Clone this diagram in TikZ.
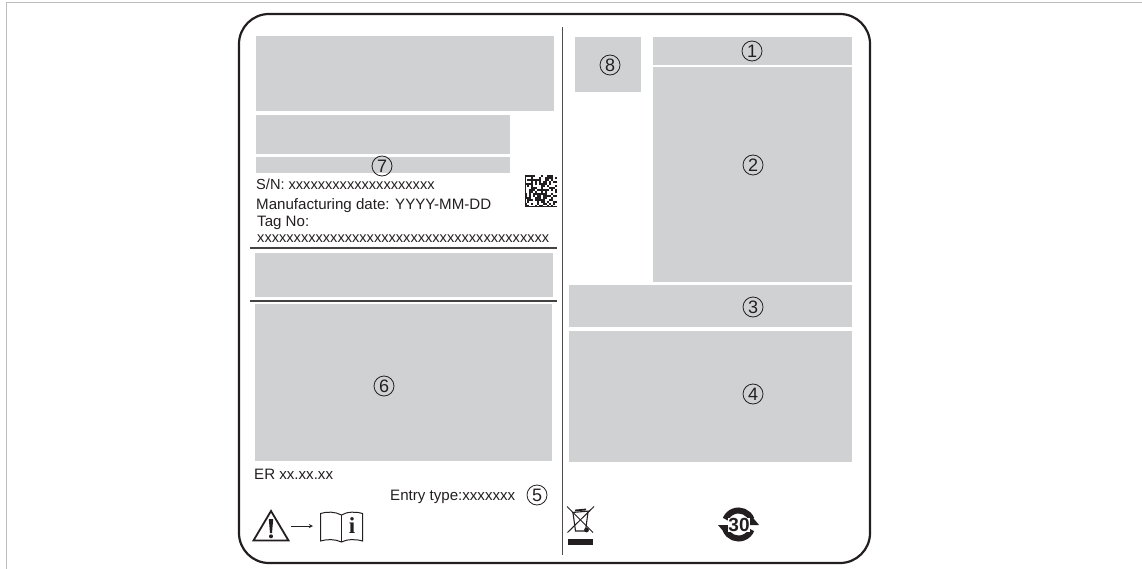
\documentclass[tikz,border=0pt]{standalone}
\usepackage{fontspec}
\setmainfont{Liberation Sans}
\newfontfamily\iconserif{Liberation Serif}
\usepackage{xcolor}
\definecolor{boxgray}{HTML}{D0D1D3}
\definecolor{framegray}{HTML}{BDBDBD}
\definecolor{inkblack}{HTML}{231F20}
\tikzset{
	graybox/.style={fill=boxgray,draw=none},
	rule/.style={draw=inkblack!85,line width=1.4pt},
	plate/.style={anchor=base west,inner sep=0pt,text=inkblack,font=\fontsize{15.1}{16}\selectfont},
	xrun/.style={plate,font=\fontsize{14.6}{16}\selectfont},
	callout/.style={circle,draw=inkblack,line width=0.8pt,minimum size=20pt,inner sep=0pt,text=inkblack,font=\fontsize{18}{18}\selectfont},
}

\begin{document}
\begin{tikzpicture}[x=1pt,y=1pt]
	\useasboundingbox (0,0) rectangle (1142,-569);
	\draw[framegray,line width=1pt] (6,-569) -- (6,-3) -- (1142,-3);
	\draw[inkblack,line width=2.2pt,rounded corners=30pt] (239,-14) rectangle (870,-563);
	\draw[inkblack!80,line width=1pt] (562,-27) -- (562,-555);
	\foreach \Xa/\Ya/\Xb/\Yb in {256/36/554/111, 256/115/510/154, 256/157/510/173, 255/253/553/297, 255/304/552/461, 575/37/641/92, 653/37/852/65, 653/67/852/282, 569/285/852/327, 569/331/852/462}{
		\fill[graybox] (\Xa,-\Ya) rectangle (\Xb,-\Yb);
	}
	\draw[rule] (250,-248) -- (556.5,-248);
	\draw[rule] (250,-301) -- (556.5,-301);
	\foreach \N/\X/\Y in {1/752/51, 2/753/165, 3/753/307, 4/753/394, 5/537/495, 6/384/386, 7/382/166, 8/610/65}{
		\node[callout] (C\N) at (\X,-\Y) {\N};
	}
	\node[xrun] (SN) at (256,-190) {S/N: xxxxxxxxxxxxxxxxxxxx};
	\node[plate] (MD) at (256,-210) {Manufacturing date: YYYY-MM-DD};
	\node[plate] (TN) at (257,-227) {Tag No:};
	\node[xrun] (TX) at (257,-243) {xxxxxxxxxxxxxxxxxxxxxxxxxxxxxxxxxxxxxxxx};
	\node[plate] (ER) at (254,-479) {ER xx.xx.xx};
	\node[plate] (ET) at (390,-500) {Entry type:xxxxxxx};
	\pgfmathsetseed{4711}
	\foreach \I in {0,...,15}{
		\foreach \J in {0,...,15}{
			\pgfmathrandominteger{\B}{0}{1}
			\ifnum\B=1
				\fill[inkblack] (525+2*\I,-175-2*\J) rectangle ++(2,-2);
			\fi
		}
	}
	\draw[inkblack,line width=1.4pt] (525.7,-175) -- (525.7,-206.3) -- (557,-206.3);
	% warning sign and manual
	\draw[inkblack,line width=1.8pt,line join=miter] (271,-511) -- (288.5,-540.5) -- (253.5,-540.5) -- cycle;
	\fill[inkblack] (268.8,-519) -- (273.2,-519) -- (272,-533) -- (270,-533) -- cycle;
	\fill[inkblack] (271,-536.3) circle (2);
	\coordinate (AS) at (291,-526);
	\coordinate (AE) at (313,-526);
	\draw[-stealth,inkblack,line width=0.9pt] (AS) -- (AE);
	\draw[inkblack,line width=1pt] (320.5,-513.5) .. controls (327,-511.5) and (335,-511.5) .. (341.5,-515) .. controls (347,-511.5) and (356,-511.5) .. (362.5,-513.5) -- (362.5,-541) .. controls (356,-539) and (347,-539) .. (341.5,-542) .. controls (335,-539) and (327,-539) .. (320.5,-541) -- cycle;
	\draw[inkblack,line width=1pt] (341.5,-515) -- (341.5,-542);
	\node[inner sep=0pt,text=inkblack] (BI) at (352,-526) {\iconserif\bfseries\fontsize{23}{23}\selectfont i};
	% disposal bin
	\draw[inkblack,line width=1.1pt] (572,-512.5) -- (590,-511);
	\draw[inkblack,line width=1.1pt] (573,-513) -- (575.5,-531) -- (585.5,-531) -- (588,-512);
	\draw[inkblack,line width=1.8pt] (575,-510.5) -- (586,-509.5);
	\draw[inkblack,line width=1pt] (567,-506.5) -- (593,-532.5);
	\draw[inkblack,line width=1pt] (594,-506.5) -- (567.5,-532.5);
	\fill[inkblack] (586.5,-530) circle (2.4);
	\fill[inkblack] (568,-538.5) rectangle (593,-545);
	% recycling period
	\draw[inkblack,line width=6pt] (738.5,-524.5) ++(22:14) arc (22:158:14);
	\draw[inkblack,line width=6pt] (738.5,-524.5) ++(202:14) arc (202:338:14);
	\fill[inkblack] (718,-525) -- (734,-525) -- (725.5,-534) -- cycle;
	\fill[inkblack] (759,-525) -- (743,-525) -- (751.5,-516) -- cycle;
	\node[inner sep=0pt,fill=white,text=inkblack] (RP) at (739,-525) {\bfseries\fontsize{19}{19}\selectfont 30};
\end{tikzpicture}
\end{document}
